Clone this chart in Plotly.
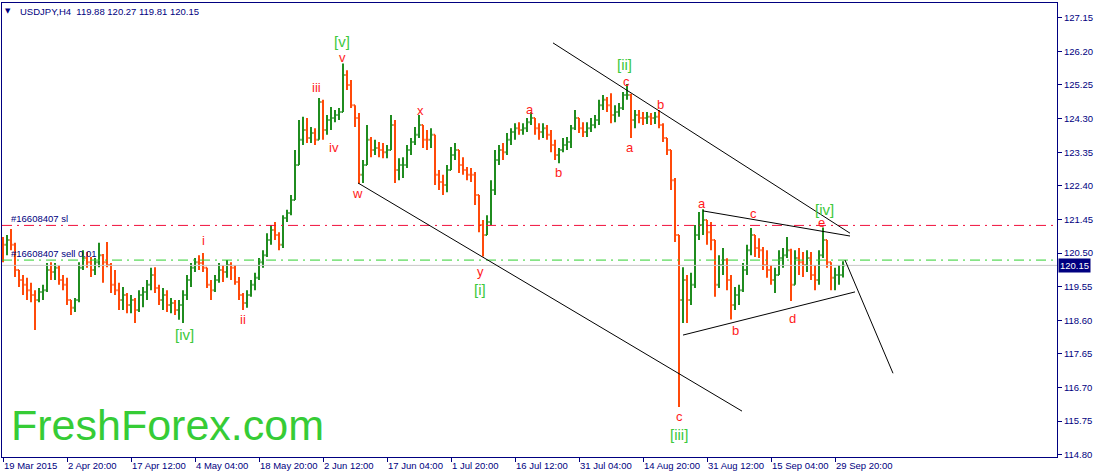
import plotly.graph_objects as go

# USDJPY H4, 19 Mar - 2 Oct 2015, one bar per 4 H4 bars
first_open = 120.85
highs = [
    120.95, 121.01, 121.18, 120.79, 120.02, 119.88, 119.80, 119.66, 119.45, 119.51,
    119.60, 120.22, 120.24, 120.22, 120.16, 119.88, 119.80, 119.17, 119.23, 120.24,
    120.58, 120.53, 120.39, 120.36, 120.79, 120.47, 120.81, 120.22, 120.02, 119.66,
    119.54, 119.37, 119.31, 119.23, 119.45, 119.54, 119.74, 120.08, 120.10, 119.60,
    119.51, 119.45, 119.23, 119.17, 119.17, 119.45, 119.88, 120.22, 120.36, 120.44,
    120.50, 120.08, 119.74, 119.88, 120.22, 120.16, 120.30, 120.24, 120.16, 119.82,
    119.37, 119.45, 119.74, 119.94, 120.36, 120.58, 121.06, 121.29, 121.38, 121.09,
    121.57, 121.72, 122.14, 123.41, 124.26, 124.35, 124.32, 124.06, 124.03, 124.88,
    124.83, 124.40, 124.63, 124.54, 124.60, 125.86, 125.67, 125.39, 124.68, 124.46,
    123.13, 124.12, 123.78, 123.70, 123.64, 123.61, 123.55, 124.40, 124.26, 123.18,
    123.21, 123.55, 123.75, 124.06, 124.40, 124.12, 123.98, 124.03, 123.84, 122.85,
    122.71, 122.99, 123.50, 123.61, 123.41, 123.21, 122.93, 122.90, 122.79, 122.14,
    121.43, 121.57, 122.56, 123.41, 123.55, 123.61, 123.89, 124.03, 124.17, 124.20,
    124.17, 124.32, 124.48, 124.32, 124.17, 124.17, 124.12, 123.98, 123.70, 123.47,
    123.75, 123.78, 124.12, 124.54, 124.32, 124.20, 124.20, 124.32, 124.40, 124.83,
    124.97, 124.91, 125.02, 124.68, 124.74, 125.05, 125.28, 125.00, 124.54, 124.54,
    124.49, 124.49, 124.46, 124.49, 124.54, 124.17, 123.75, 123.41, 122.62, 121.01,
    120.10, 119.88, 119.94, 121.29, 121.66, 121.74, 121.43, 121.38, 120.87, 120.44,
    120.64, 120.35, 119.88, 119.54, 119.60, 120.22, 120.73, 121.21, 121.01, 120.92,
    120.67, 120.58, 120.16, 120.08, 120.58, 120.64, 120.95, 120.62, 120.58, 120.64,
    120.53, 120.58, 120.53, 120.16, 120.58, 121.22, 120.87, 120.24, 120.08, 120.16,
    120.27,
]
lows = [
    120.24, 120.44, 120.58, 119.82, 119.54, 119.31, 119.17, 119.11, 118.32, 119.11,
    119.17, 119.40, 119.74, 119.74, 119.60, 119.45, 119.03, 118.75, 118.83, 119.11,
    120.02, 120.08, 119.82, 119.88, 120.10, 119.66, 120.10, 119.37, 119.31, 118.89,
    118.89, 118.80, 118.80, 118.52, 118.83, 118.97, 119.17, 119.45, 119.37, 119.03,
    118.89, 118.83, 118.80, 118.75, 118.61, 118.52, 119.17, 119.54, 119.96, 120.02,
    119.96, 119.51, 119.17, 119.40, 119.66, 119.68, 119.80, 119.74, 119.60, 119.17,
    118.89, 118.95, 119.26, 119.45, 119.74, 120.08, 120.39, 120.73, 120.87, 120.58,
    120.64, 121.38, 121.57, 122.00, 122.99, 123.55, 123.61, 123.61, 123.55, 123.70,
    123.70, 123.84, 123.98, 124.20, 124.26, 124.49, 125.11, 124.60, 124.06, 122.46,
    122.48, 122.99, 123.21, 123.27, 123.21, 123.18, 123.18, 123.41, 122.48, 122.56,
    122.62, 122.90, 123.27, 123.55, 123.75, 123.47, 123.41, 123.47, 122.42, 122.28,
    122.14, 122.22, 122.85, 123.13, 122.76, 122.71, 122.56, 122.51, 121.86, 121.09,
    120.40, 121.01, 121.29, 122.14, 122.99, 123.13, 123.27, 123.55, 123.70, 123.84,
    123.84, 123.92, 124.12, 123.84, 123.70, 123.75, 123.70, 123.35, 123.13, 123.04,
    123.35, 123.41, 123.47, 123.98, 123.89, 123.78, 123.78, 123.92, 124.03, 124.12,
    124.54, 124.49, 124.17, 124.20, 124.35, 124.54, 124.83, 123.75, 124.03, 124.17,
    124.12, 124.15, 124.12, 124.15, 124.03, 123.64, 123.27, 122.28, 120.81, 116.15,
    118.52, 118.52, 119.03, 119.51, 120.87, 121.01, 120.73, 120.58, 119.26, 119.51,
    119.88, 119.45, 118.62, 118.89, 119.03, 119.40, 119.88, 120.44, 120.39, 120.36,
    120.02, 119.80, 119.60, 119.37, 119.88, 120.08, 120.36, 119.14, 119.60, 119.88,
    119.82, 119.96, 119.74, 119.45, 119.60, 120.36, 120.08, 119.45, 119.45, 119.60,
    119.81,
]
closes = [
    120.73, 120.87, 120.73, 120.02, 119.74, 119.60, 119.45, 119.31, 119.17, 119.40,
    119.45, 120.02, 119.96, 120.08, 119.74, 119.60, 119.17, 118.95, 119.17, 120.08,
    120.36, 120.24, 120.02, 120.24, 120.44, 120.24, 120.16, 119.60, 119.45, 119.17,
    119.31, 119.03, 119.17, 118.89, 119.31, 119.40, 119.60, 119.88, 119.51, 119.17,
    119.31, 119.03, 119.09, 118.89, 119.03, 119.31, 119.74, 120.08, 120.24, 120.22,
    120.08, 119.60, 119.45, 119.74, 120.02, 119.96, 120.16, 120.08, 119.68, 119.31,
    119.09, 119.31, 119.60, 119.80, 120.24, 120.44, 120.87, 121.15, 121.01, 120.73,
    121.49, 121.63, 122.00, 122.99, 123.70, 123.98, 123.75, 123.89, 123.70, 124.77,
    123.98, 124.26, 124.32, 124.40, 124.49, 125.53, 125.25, 124.68, 124.32, 122.71,
    122.99, 123.70, 123.41, 123.47, 123.41, 123.35, 123.41, 124.12, 122.85, 122.99,
    122.99, 123.41, 123.64, 123.84, 124.12, 123.70, 123.70, 123.84, 122.71, 122.51,
    122.42, 122.85, 123.27, 123.41, 122.99, 122.85, 122.71, 122.71, 122.14, 121.29,
    121.01, 121.38, 122.28, 123.13, 123.41, 123.35, 123.70, 123.92, 124.03, 123.98,
    124.03, 124.20, 124.32, 124.03, 123.92, 124.03, 123.84, 123.55, 123.27, 123.41,
    123.55, 123.64, 124.03, 124.32, 124.03, 123.92, 124.03, 124.12, 124.26, 124.68,
    124.83, 124.68, 124.40, 124.49, 124.60, 124.97, 124.97, 124.26, 124.40, 124.32,
    124.32, 124.35, 124.32, 124.35, 124.12, 123.75, 123.41, 122.56, 121.01, 119.17,
    119.74, 119.17, 119.60, 121.01, 121.29, 121.43, 121.09, 120.87, 119.60, 120.16,
    120.30, 119.74, 119.03, 119.31, 119.45, 120.02, 120.58, 121.01, 120.64, 120.58,
    120.16, 120.02, 119.74, 119.88, 120.36, 120.44, 120.58, 119.60, 120.36, 120.24,
    120.16, 120.36, 119.88, 119.74, 120.44, 120.87, 120.24, 119.80, 119.88, 119.88,
    120.15,
]
opens = [first_open] + closes[:-1]
bar_x = [4 * i for i in range(len(closes))]  # x in H4 bars from the first bar

# axes
price_ticks = [114.80, 115.75, 116.70, 117.65, 118.60, 119.55, 120.50,
               121.45, 122.40, 123.35, 124.30, 125.25, 126.20, 127.15]
time_ticks = [0, 64, 128, 192, 256, 320, 384, 448, 512, 576, 640, 704, 768, 832]
time_labels = ["19 Mar 2015", "2 Apr 20:00", "17 Apr 12:00", "4 May 04:00",
               "18 May 20:00", "2 Jun 12:00", "17 Jun 04:00", "1 Jul 20:00",
               "16 Jul 12:00", "31 Jul 04:00", "14 Aug 20:00", "31 Aug 12:00",
               "15 Sep 04:00", "29 Sep 20:00"]

# order levels
sl_level = 121.28
sell_level = 120.30
bid_level = 120.15

# trend lines: (x0, y0, x1, y1) in bars / price
trend_lines = [
    (550, 126.44, 847, 121.06),
    (355, 122.48, 739, 116.03),
    (700, 121.69, 847, 120.98),
    (680, 118.18, 852, 119.40),
    (842, 120.30, 890, 117.10),
]

# wave labels
minor_waves = [
    ("v", 339, 126.04), ("iii", 313, 125.17), ("iv", 331, 123.47), ("w", 354, 122.17),
    ("x", 417, 124.52), ("i", 200, 120.84), ("ii", 240, 118.63), ("y", 477, 119.97),
    ("a", 527, 124.57), ("b", 555, 122.79), ("c", 623, 125.36), ("a", 627, 123.47),
    ("b", 657, 124.71), ("c", 676, 115.89), ("a", 699, 121.89), ("c", 750, 121.63),
    ("b", 732, 118.30), ("d", 789, 118.66), ("e", 818, 121.35),
]
major_waves = [
    ("[v]", 339, 126.49), ("[iv]", 181, 118.21), ("[i]", 477, 119.48),
    ("[ii]", 621, 125.84), ("[iii]", 676, 115.38), ("[iv]", 821, 121.74),
]

NAVY = "#000080"
FONT = "Liberation Sans"

fig = go.Figure()
fig.add_trace(go.Ohlc(
    x=bar_x, open=opens, high=highs, low=lows, close=closes,
    increasing_line_color="#1f8c1f", decreasing_line_color="#ff4a0a",
    line_width=2, tickwidth=0.4, hoverinfo="skip",
))

for level, color in [(sl_level, "#f0103c"), (sell_level, "#2fd02f")]:
    fig.add_hline(y=level, line=dict(color=color, width=1, dash="10px,5px,2px,5px"))
fig.add_hline(y=bid_level, line=dict(color="#c8c8c8", width=1))

for x0, y0, x1, y1 in trend_lines:
    fig.add_shape(type="line", x0=x0, y0=y0, x1=x1, y1=y1, xref="x", yref="y",
                  line=dict(color="black", width=1))

for text, x, y in minor_waves:
    fig.add_annotation(x=x, y=y, text=text, showarrow=False,
                       font=dict(family=FONT, size=13, color="#ff1a1a"))
for text, x, y in major_waves:
    fig.add_annotation(x=x, y=y, text=text, showarrow=False,
                       font=dict(family=FONT, size=15, color="#3cc83c"))

# order labels
fig.add_annotation(x=6, y=sl_level, text="#16608407 sl", showarrow=False,
                   xanchor="left", yanchor="bottom", yshift=-1,
                   font=dict(family=FONT, size=9.5, color=NAVY))
fig.add_annotation(x=6, y=sell_level, text="#16608407 sell 0.01", showarrow=False,
                   xanchor="left", yanchor="bottom", yshift=-1,
                   font=dict(family=FONT, size=9.5, color=NAVY))

# header
fig.add_annotation(x=0.006, y=0.982, xref="paper", yref="paper", text="▼",
                   showarrow=False, xanchor="center", yanchor="middle",
                   font=dict(family="DejaVu Sans", size=7, color=NAVY))
fig.add_annotation(x=0.015, y=0.982, xref="paper", yref="paper",
                   text="USDJPY,H4  119.88 120.27 119.81 120.15",
                   showarrow=False, xanchor="left", yanchor="middle",
                   font=dict(family=FONT, size=9.5, color=NAVY))

# current price box
fig.add_annotation(x=1, y=bid_level, xref="paper", yref="y", text="120.15",
                   showarrow=False, xanchor="left", xshift=1, bgcolor=NAVY,
                   borderpad=1, font=dict(family=FONT, size=9.5, color="white"))

# watermark
fig.add_annotation(x=0.007, y=0.07, xref="paper", yref="paper", text="FreshForex.com",
                   showarrow=False, xanchor="left", yanchor="middle",
                   font=dict(family=FONT, size=43, color="#36cc36"))

fig.update_layout(
    width=1096, height=476,
    margin=dict(l=2, r=39, t=3, b=19),
    paper_bgcolor="white", plot_bgcolor="white",
    showlegend=False, hovermode=False,
    xaxis=dict(
        range=[-1, 1054], rangeslider=dict(visible=False),
        tickmode="array", tickvals=time_ticks, ticktext=time_labels,
        ticklabelposition="outside right", tickangle=0, ticks="outside", ticklen=4,
        tickcolor=NAVY, tickfont=dict(family=FONT, size=9.5, color=NAVY),
        showgrid=False, zeroline=False, showline=True, linecolor=NAVY,
        linewidth=1, mirror=True, automargin=False, fixedrange=True,
    ),
    yaxis=dict(
        range=[114.733, 127.568], side="right",
        tickmode="array", tickvals=price_ticks,
        ticktext=["%.2f" % v for v in price_ticks],
        ticks="outside", ticklen=4, tickcolor=NAVY,
        tickfont=dict(family=FONT, size=9.5, color=NAVY),
        showgrid=False, zeroline=False, showline=True, linecolor=NAVY,
        linewidth=1, mirror=True, automargin=False, fixedrange=True,
    ),
)

# the page body has a default margin; drop it so the chart fills the window
fig.write_html("out.html", config={"displayModeBar": False},
               post_script="document.body.style.margin='0';")
